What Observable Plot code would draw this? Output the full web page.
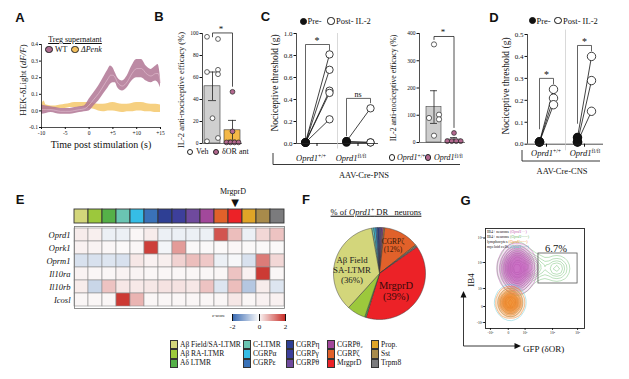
<!DOCTYPE html>
<html><head><meta charset="utf-8">
<script src="https://cdn.jsdelivr.net/npm/d3@7"></script>
<script src="https://cdn.jsdelivr.net/npm/@observablehq/plot@0.6"></script>
<style>
body{margin:0;background:#fff;}
#root{position:relative;width:629px;height:379px;overflow:hidden;background:#fff;font-family:"Liberation Serif","Times New Roman",serif;color:#111;}
.t{position:absolute;white-space:nowrap;line-height:1;}
.t sup{font-size:68%;vertical-align:0.45em;line-height:0;}
.lt{font-family:"Liberation Sans",Arial,sans-serif;font-weight:bold;font-size:13px;}
.dt{position:absolute;border-radius:50%;box-sizing:border-box;}
.sw{position:absolute;box-sizing:border-box;border:0.8px solid #333;}
</style></head><body><div id="root"></div>
<script>
// ================= DATA =================
// Panel A – HEK-δLight band (low / high edge of SEM band)
const aWtTime = [-10,-9,-8,-7,-6,-5,-4,-3,-2,-1,0,1,2,3,4,4.5,5,5.5,6,7,8,9,10,11,12,13,14,14.5,15];
const aWtLo = [-0.02,-0.015,-0.01,-0.015,-0.02,-0.02,-0.02,-0.015,-0.01,-0.005,0.0,0.03,0.06,0.10,0.14,0.16,0.17,0.17,0.14,0.12,0.14,0.18,0.20,0.20,0.18,0.17,0.18,0.17,0.14];
const aWtHi = [0.035,0.03,0.025,0.02,0.015,0.015,0.015,0.02,0.025,0.03,0.07,0.11,0.15,0.20,0.25,0.27,0.26,0.23,0.20,0.18,0.21,0.27,0.31,0.31,0.27,0.25,0.27,0.28,0.20];
const aPkTime = [-10,-9.5,-9,-8,-7,-6,-5,-4,-3,-2,-1,0,1,2,3,4,5,6,7,8,9,10,11,12,13,14,15];
const aPkLo = [-0.01,0.0,0.0,0.005,0.01,0.015,0.015,0.02,0.02,0.02,0.02,0.015,0.01,0.0,-0.005,0.0,0.0,-0.005,-0.01,-0.005,-0.005,0.0,0.0,-0.005,-0.005,-0.01,-0.01];
const aPkHi = [0.03,0.06,0.035,0.03,0.03,0.035,0.04,0.045,0.05,0.05,0.05,0.05,0.045,0.04,0.04,0.045,0.05,0.045,0.04,0.04,0.045,0.05,0.05,0.045,0.04,0.04,0.035];
const aXTicks = [-10,-5,0,5,10,15];
const aYTicks = [-0.1,0,0.1,0.2,0.3,0.4];

// Panel B
const bGroups = ["Veh","δOR ant"];
const bMeans = [52,12];
const bErrLo = [39,3];
const bErrHi = [65,21];
const bFills = ["#cfcfcf","#f4b847"];
const bVeh = [97,95,65,67,63,23,5,2];
const bVehSlot = [-1,1,-1,1,1,0,1,-1];
const bAnt = [47,11,1,1,1,1];
const bAntSlot = [0,0,-1.5,-0.5,0.5,1.5];
const bYTicks = [0,20,40,60,80,100];

// Panel C (left) – paired thresholds
const cGeno = ["+/+","fl/fl"];
const cTimes = ["Pre","Post"];
const cPreWT = [0.01,0.01,0.01,0.01,0.01];
const cPostWT = [0.81,0.67,0.48,0.46,0.22];
const cPreFl = [0.02,0.02,0.01];
const cPostFl = [0.32,0.01,0.01];
const cYTicks = [0,0.2,0.4,0.6,0.8,1.0];
const cSigTop = [0.90,0.41];
const cSigLowL = [0.05,0.07];
const cSigLowR = [0.85,0.37];
const cSigLab = ["*","ns"];

// Panel C (right) – efficacy
const crMeans = [130,11];
const crErrLo = [70,4];
const crErrHi = [190,18];
const crWT = [360,102,90,85,25];
const crWTSlot = [0,1,-1,1,0];
const crFl = [35,5,5,5,5];
const crFlSlot = [0,-1.5,-0.5,0.5,1.5];
const crYTicks = [0,100,200,300,400];

// Panel D
const dPreWT = [0.01,0.01,0.01];
const dPostWT = [0.25,0.21,0.18];
const dPreFl = [0.03,0.01,0.01];
const dPostFl = [0.40,0.29,0.15];
const dYTicks = [0,0.1,0.2,0.3,0.4,0.5];
const dSigTop = [0.30,0.45];
const dSigLowL = [0.07,0.095];
const dSigLowR = [0.275,0.425];

// Panel E – DRG clusters & z-scores
const clusters = ["Aβ Field/SA-LTMR","Aβ RA-LTMR","Aδ LTMR","C-LTMR","CGRPα","CGRPε","CGRPη","CGRPγ","CGRPθ","CGRPθ₂","CGRPζ","MrgprD","Prop.","Sst","Trpm8"];
const clusterColors = ["#d3d67b","#9cc83c","#55b048","#6ac5b3","#36bde6","#3a72b8","#2e3f94","#3d3f9b","#6f4a9d","#a2489b","#e1612a","#ec2227","#e0a527","#a88b4b","#7b7b7d"];
const genes = ["Oprd1","Oprk1","Oprm1","Il10ra","Il10rb","Icosl"];
const zOprd1 = [0.15,0.12,-0.15,-0.15,0.05,0.15,-0.15,-0.15,-0.15,-0.15,1.65,0.6,-0.15,0.35,0.55];
const zOprk1 = [0.1,0.08,0.05,0.02,0.05,1.85,-0.08,0.95,0.03,0.03,0.02,0.05,0.03,0.03,0.03];
const zOprm1 = [-0.35,-0.35,-0.3,-0.35,0.2,0.1,0.12,0.4,0.6,0.5,-0.15,-0.05,-0.35,1.25,0.35];
const zIl10ra = [0.08,0.05,0.05,0.08,0.08,0.05,0.05,0.05,0.05,0.05,0.05,0.55,0.1,1.9,0.05];
const zIl10rb = [0.15,-0.5,0.55,0.2,0.18,0.2,0.25,0.25,0.2,0.55,-0.3,0.6,-0.7,0.15,-0.3];
const zIcosl = [0.05,0.05,0.05,1.9,0.7,0.05,0.05,0.05,0.05,0.05,0.05,0.2,0.05,0.1,0.1];
const zTicks = [-2,0,2];

// Panel F – % of Oprd1+ DRG neurons (clockwise)
const pieNames = ["C-LTMR","CGRPα","CGRPε","CGRPη","CGRPγ","CGRPθ","CGRPθ₂","Prop.","CGRPζ","Sst","Trpm8","MrgprD","Aδ LTMR","Aβ RA-LTMR","Aβ Field/SA-LTMR"];
const pieShare = [0.8,0.7,0.6,0.6,0.5,0.5,0.5,0.4,12.5,0.45,0.45,39.5,0.5,6.5,35.5];

// Panel G – flow cytometry populations (axis units 0–100)
const gMagX = [32,28,36,28,36,32,32,25,39,32,32];
const gMagY = [60,52,52,68,68,46,74,60,60,60,60];
const gGrnX = [32,27,37,27,37,32,32,23,41,46,52,71,73];
const gGrnY = [60,51,51,69,69,44,76,60,60,62,61,60,60];
const gOrX = [25,25,25,21,29,25];
const gOrY = [26,19,33,26,26,26];
const gCyX = [25,25,25,20,30];
const gCyY = [26,17,35,26,26];
const gGateX = [53.5,93];
const gGateY = [45,75];
const gXTickPos = [5,23,40,67.7,93];
const gYTickPos = [6,22,40,66,90.5];
const gTickLab = ["-10³","0","10³","10⁴","10⁵"];

// ================= HELPERS =================
const root = document.getElementById("root");
const W = 629, H = 379;
const SERIF = "Liberation Serif, Times New Roman, serif";
const fr = (x0,y0,x1,y1) => ({width:W,height:H,marginLeft:x0,marginTop:y0,marginRight:W-x1,marginBottom:H-y1});
const st = fs => ({background:"transparent",fontFamily:SERIF,fontSize:fs+"px",color:"#111",overflow:"visible"});
function add(el){el.style.position="absolute";el.style.left="0px";el.style.top="0px";root.appendChild(el);return el;}
function txt(x,y,html,o={}){
  const d=document.createElement("div");d.className="t"+(o.cls?" "+o.cls:"");d.innerHTML=html;
  const a=o.anchor||"start";const tx=a==="middle"?"-50%":a==="end"?"-100%":"0";
  d.style.left=x+"px";d.style.top=y+"px";
  if(!o.cls) d.style.fontSize=(o.size||8)+"px";
  if(o.color) d.style.color=o.color;
  if(o.css) d.style.cssText+=o.css;
  d.style.transform=o.rot?`translate(-50%,-50%) rotate(${o.rot}deg)`:`translate(${tx},-50%)`;
  root.appendChild(d);return d;
}
function dot(x,y,r,fill,stroke="#222"){
  const d=document.createElement("div");d.className="dt";
  d.style.cssText+=`left:${x-r}px;top:${y-r}px;width:${2*r}px;height:${2*r}px;background:${fill};border:0.8px solid ${stroke};`;
  root.appendChild(d);
}
function slotDots(pts,fill,r,step){
  const slots=[...new Set(pts.map(d=>d.s))];
  return slots.map(s=>Plot.dot(pts.filter(d=>d.s===s),{x:"g",y:"v",r,fill,stroke:"#222",strokeWidth:0.7,dx:s*step}));
}
function axesOverlay(frame,ydom,yticks,yfmt,fs,extra=[],xdom=[0,1]){
  return add(Plot.plot({...frame,style:st(fs),x:{domain:xdom,axis:null},y:{domain:ydom},
    marks:[Plot.axisY({ticks:yticks,tickFormat:yfmt,tickSize:2.5,tickPadding:1.5,fontSize:fs,label:null}),
      Plot.ruleX([xdom[0]],{stroke:"#222",strokeWidth:0.8}),...extra]}));
}
const f1 = d3.format(".1f");
const intFmt = d => d<0 ? "-"+(-d) : String(d);

// ================= PANEL A =================
const aWT = aWtTime.map((t,i)=>({t,lo:aWtLo[i],hi:aWtHi[i]}));
const aPK = aPkTime.map((t,i)=>({t,lo:aPkLo[i],hi:aPkHi[i]}));
add(Plot.plot({...fr(41,44,160,127),style:st(5.5),
  x:{domain:[-10,15],axis:null},y:{domain:[-0.1,0.4],axis:null},
  marks:[
    Plot.areaY(aPK,{x:"t",y1:"lo",y2:"hi",fill:"#f4c462",fillOpacity:0.8,curve:"monotone-x"}),
    Plot.areaY(aWT,{x:"t",y1:"lo",y2:"hi",fill:"#b07594",fillOpacity:0.85,curve:"monotone-x"}),
    Plot.lineY(aWT,{x:"t",y:d=>(d.lo+d.hi)/2,stroke:"#e6c3d4",strokeWidth:0.6,curve:"monotone-x"}),
    Plot.ruleX([-10],{stroke:"#222",strokeWidth:0.8}),
    Plot.ruleY([-0.1],{stroke:"#222",strokeWidth:0.8}),
    Plot.axisX({ticks:aXTicks,tickFormat:d=>d>0?"+"+d:d<0?"-"+Math.abs(d):"0",tickSize:2,tickPadding:1.5,fontSize:5.5,label:null}),
    Plot.axisY({ticks:aYTicks,tickFormat:d=>d<0?"-"+f1(-d):f1(d),tickSize:2,tickPadding:1.5,fontSize:5.5,label:null})
  ]}));

// ================= PANEL B =================
const bBars = bGroups.map((g,i)=>({g,mean:bMeans[i],lo:bErrLo[i],hi:bErrHi[i],fill:bFills[i]}));
const bPtsVeh = bVeh.map((v,i)=>({g:"Veh",v,s:bVehSlot[i]}));
const bPtsAnt = bAnt.map((v,i)=>({g:"δOR ant",v,s:bAntSlot[i]}));
const bSig = [{g:"Veh",v:97},{g:"Veh",v:100.5},{g:"δOR ant",v:100.5},{g:"δOR ant",v:52}];
add(Plot.plot({...fr(202,33,242,143),style:st(6),color:{type:"identity"},
  x:{type:"band",domain:bGroups,paddingInner:0.2,paddingOuter:0.1,axis:null},y:{domain:[0,100],axis:null},
  marks:[
    Plot.barY(bBars,{x:"g",y:"mean",fill:"fill",stroke:"#333",strokeWidth:0.6}),
    Plot.ruleX(bBars,{x:"g",y1:"lo",y2:"hi",stroke:"#222",strokeWidth:0.8}),
    Plot.tickY(bBars,{x:"g",y:"hi",insetLeft:4,insetRight:4,stroke:"#222",strokeWidth:0.8}),
    Plot.tickY(bBars,{x:"g",y:"lo",insetLeft:4,insetRight:4,stroke:"#222",strokeWidth:0.8}),
    ...slotDots(bPtsVeh,"white",2.4,5.5),
    ...slotDots(bPtsAnt,"#b3688f",2.4,4),
    Plot.line(bSig,{x:"g",y:"v",stroke:"#222",strokeWidth:0.8})
  ]}));
axesOverlay(fr(202,33,242,143),[0,100],bYTicks,d=>String(d),5.5,[Plot.ruleY([0],{stroke:"#222",strokeWidth:0.6})]);

// ================= PANEL C (left) =================
function pairRows(pre,post,geno){const r=[];pre.forEach((v,i)=>{r.push({geno,id:geno+i,time:"Pre",v});r.push({geno,id:geno+i,time:"Post",v:post[i]});});return r;}
function sigRows(top,lowL,lowR){const r=[];cGeno.forEach((g,i)=>{r.push({geno:g,id:g,time:"Pre",v:lowL[i]},{geno:g,id:g,time:"Pre",v:top[i]},{geno:g,id:g,time:"Post",v:top[i]},{geno:g,id:g,time:"Post",v:lowR[i]});});return r;}
function pairedPlot(frame,rows,sig,ydom,pad,r){
  return add(Plot.plot({...frame,style:st(7),
    fx:{domain:cGeno,padding:0,axis:null},x:{type:"point",domain:cTimes,padding:pad,axis:null},y:{domain:ydom,axis:null},
    marks:[
      Plot.line(sig,{fx:"geno",x:"time",y:"v",z:"id",stroke:"#222",strokeWidth:0.7}),
      Plot.line(rows,{fx:"geno",x:"time",y:"v",z:"id",stroke:"#111",strokeWidth:0.8}),
      Plot.dot(rows.filter(d=>d.time==="Pre"),{fx:"geno",x:"time",y:"v",r,fill:"#111",stroke:"#111"}),
      Plot.dot(rows.filter(d=>d.time==="Post"),{fx:"geno",x:"time",y:"v",r:r+0.2,fill:"white",stroke:"#111",strokeWidth:0.8})
    ]}));
}
const cRows = [...pairRows(cPreWT,cPostWT,"+/+"),...pairRows(cPreFl,cPostFl,"fl/fl")];
pairedPlot(fr(296,33,378,143),cRows,sigRows(cSigTop,cSigLowL,cSigLowR),[0,1],0.354,3.5);
const cSigTxt = cGeno.map((g,i)=>({gx:i+0.5,top:cSigTop[i],lab:cSigLab[i]}));
axesOverlay(fr(296,33,378,143),[0,1],cYTicks,f1,7,[
  Plot.ruleY([0],{stroke:"#222",strokeWidth:0.8}),
  Plot.ruleX([1],{y1:-0.05,y2:1,stroke:"#c8c8c8",strokeWidth:0.7}),
  Plot.axisX({ticks:[0.5,1.5],tickFormat:()=>"",tickSize:3,label:null}),
  Plot.text(cSigTxt,{x:"gx",y:"top",text:"lab",dy:-4,fontSize:d=>d.lab==="*"?10:8})
],[0,2]);

// ================= PANEL C (right) =================
const crBars = cGeno.map((g,i)=>({g,mean:crMeans[i],lo:crErrLo[i],hi:crErrHi[i]}));
const crPtsWT = crWT.map((v,i)=>({g:"+/+",v,s:crWTSlot[i]}));
const crPtsFl = crFl.map((v,i)=>({g:"fl/fl",v,s:crFlSlot[i]}));
const crSig = [{g:"+/+",v:378},{g:"+/+",v:389},{g:"fl/fl",v:389},{g:"fl/fl",v:55}];
add(Plot.plot({...fr(421,33,465,142),style:st(6),
  x:{type:"band",domain:cGeno,paddingInner:0.25,paddingOuter:0.2,axis:null},y:{domain:[0,400],axis:null},
  marks:[
    Plot.barY(crBars,{x:"g",y:"mean",fill:"#cdcdcd",stroke:"#444",strokeWidth:0.6}),
    Plot.ruleX(crBars,{x:"g",y1:"lo",y2:"hi",stroke:"#222",strokeWidth:0.8}),
    Plot.tickY(crBars,{x:"g",y:"hi",insetLeft:4,insetRight:4,stroke:"#222",strokeWidth:0.8}),
    Plot.tickY(crBars,{x:"g",y:"lo",insetLeft:4,insetRight:4,stroke:"#222",strokeWidth:0.8}),
    ...slotDots(crPtsWT,"white",2.6,5),
    ...slotDots(crPtsFl,"#b3688f",2.4,4.5),
    Plot.line(crSig,{x:"g",y:"v",stroke:"#222",strokeWidth:0.8})
  ]}));
axesOverlay(fr(419,33,465,142),[0,400],crYTicks,d=>String(d),5.5,[Plot.ruleY([0],{stroke:"#222",strokeWidth:0.6})]);

// ================= PANEL D =================
const dRows = [...pairRows(dPreWT,dPostWT,"+/+"),...pairRows(dPreFl,dPostFl,"fl/fl")];
pairedPlot(fr(527,34,603,143.7),dRows,sigRows(dSigTop,dSigLowL,dSigLowR),[0,0.5],0.77,4);
const dSigTxt = cGeno.map((g,i)=>({gx:i+0.5,top:dSigTop[i],lab:"*"}));
axesOverlay(fr(527,34,603,143.7),[0,0.5],dYTicks,f1,7,[
  Plot.ruleY([0],{stroke:"#222",strokeWidth:0.8}),
  Plot.ruleX([1],{y1:-0.03,y2:0.52,stroke:"#c8c8c8",strokeWidth:0.7}),
  Plot.axisX({ticks:[0.5,1.5],tickFormat:()=>"",tickSize:3,label:null}),
  Plot.text(dSigTxt,{x:"gx",y:"top",text:"lab",dy:-4,fontSize:10})
],[0,2]);

// ================= PANEL E =================
const zRows = [zOprd1,zOprk1,zOprm1,zIl10ra,zIl10rb,zIcosl];
const cells = genes.flatMap((g,gi)=>clusters.map((c,ci)=>({gene:g,cluster:c,z:zRows[gi][ci]})));
const zColor = {type:"linear",domain:[-2,0,2],range:["#3466b0","#fbfbfb","#c9302a"],interpolate:"rgb",clamp:true};
add(Plot.plot({...fr(74,209,284,223),style:st(7),color:{type:"identity"},
  x:{type:"band",domain:clusters,padding:0,axis:null},
  marks:[Plot.cell(clusters,{x:d=>d,fill:(d,i)=>clusterColors[i],stroke:"#333",strokeWidth:0.9})]}));
add(Plot.plot({...fr(74,226,284,308),style:st(8.5),color:zColor,
  x:{type:"band",domain:clusters,padding:0,axis:null},y:{type:"band",domain:genes,padding:0},
  marks:[
    Plot.cell(cells,{x:"cluster",y:"gene",fill:"z",stroke:"#8c8c8c",strokeWidth:0.6}),
    Plot.frame({stroke:"#777",strokeWidth:0.8}),
    Plot.axisY({fontStyle:"italic",fontSize:8.5,tickSize:0,tickPadding:4,label:null})
  ]}));
{
  const lg = Plot.legend({color:zColor,width:69,height:22,marginTop:2,marginBottom:13,marginLeft:8,marginRight:8,
    ticks:zTicks,tickFormat:intFmt,tickSize:0,label:null,style:{background:"transparent",fontFamily:SERIF,fontSize:"7px",overflow:"visible"}});
  lg.style.position="absolute";lg.style.left="224px";lg.style.top="312px";root.appendChild(lg);
}

// ================= PANEL F =================
const pieColor = n => clusterColors[clusters.indexOf(n)];
const arcs = d3.pie().sort(null).value(d=>d).startAngle(-10*Math.PI/180).endAngle(350*Math.PI/180)(pieShare);
const piePts = [];
arcs.forEach((a,i)=>{
  const name=pieNames[i], c=pieColor(name);
  const n=Math.max(2,Math.ceil((a.endAngle-a.startAngle)/(Math.PI/180)));
  piePts.push({name,c,x:0,y:0});
  for(let k=0;k<=n;k++){const t=a.startAngle+(a.endAngle-a.startAngle)*k/n;piePts.push({name,c,x:Math.sin(t),y:Math.cos(t)});}
  piePts.push({name,c,x:0,y:0});
});
add(Plot.plot({...fr(333,227,425,319),style:st(8),color:{type:"identity"},
  x:{domain:[-1,1],axis:null},y:{domain:[-1,1],axis:null},
  marks:[Plot.line(piePts,{x:"x",y:"y",z:"name",fill:"c",stroke:"#3a3a3a",strokeWidth:0.5,strokeLinejoin:"round"})]}));

// ================= PANEL G =================
const toPts = (X,Y)=>X.map((x,i)=>({x,y:Y[i]}));
const gLab = (pos)=>d=>gTickLab[pos.indexOf(d)];
add(Plot.plot({...fr(485,228,584,328),style:st(3.6),
  x:{domain:[0,100],axis:null},y:{domain:[0,100],axis:null},
  marks:[
    Plot.density(toPts(gGrnX,gGrnY),{x:"x",y:"y",bandwidth:5,thresholds:10,stroke:"#79c27b",strokeWidth:0.5,clip:true}),
    Plot.density(toPts(gMagX,gMagY),{x:"x",y:"y",bandwidth:5.5,thresholds:14,stroke:"#b64ead",strokeWidth:0.4,fill:"#c664bf",fillOpacity:0.16,clip:true}),
    Plot.density(toPts(gCyX,gCyY),{x:"x",y:"y",bandwidth:5.5,thresholds:6,stroke:"#6ccad6",strokeWidth:0.5,clip:true}),
    Plot.density(toPts(gOrX,gOrY),{x:"x",y:"y",bandwidth:4.5,thresholds:12,stroke:"#ec7c1f",strokeWidth:0.45,fill:"#f08a2a",fillOpacity:0.2,clip:true}),
    Plot.rect([0],{x1:gGateX[0],x2:gGateX[1],y1:gGateY[0],y2:gGateY[1],fill:"none",stroke:"#555",strokeWidth:0.8}),
    Plot.frame({stroke:"#222",strokeWidth:0.9}),
    Plot.axisX({ticks:gXTickPos,tickFormat:gLab(gXTickPos),tickSize:1.8,tickPadding:1,fontSize:3.6,label:null}),
    Plot.axisY({ticks:gYTickPos,tickFormat:gLab(gYTickPos),tickSize:1.8,tickPadding:1,fontSize:3.6,label:null})
  ]}));

// ================= DECORATIONS =================
{
  const s=document.createElementNS("http://www.w3.org/2000/svg","svg");
  s.setAttribute("width",W);s.setAttribute("height",H);
  s.innerHTML=`<g fill="none" stroke="#222" stroke-width="0.9">
    <path d="M273,153V164.5H460"/>
    <path d="M522,150V161H600"/>
    <path d="M463.5,346V297"/><path d="M463.5,346H515"/></g>
    <path d="M463.5,291l-3,6.5h6z" fill="#111"/><path d="M521,346l-6.5,-3v6z" fill="#111"/>`;
  add(s);
}

// ================= TEXT =================
[["A",20,17],["B",159,16],["C",265.5,15.5],["D",494,16.5],["E",20,199],["F",306,199],["G",465.5,200]]
  .forEach(([l,x,y])=>txt(x,y,l,{cls:"lt",anchor:"middle"}));
// A
txt(75,40,"Treg supernatant",{size:8,anchor:"middle",css:"text-decoration:underline;"});
dot(49,49.5,3.8,"#ad6d8f");txt(55,49.5,"WT",{size:8});
dot(75,49.5,3.8,"#f3c05e");txt(81,49.5,"<i>ΔPenk</i>",{size:8});
txt(101,145,"Time post stimulation (s)",{size:10,anchor:"middle"});
txt(23,80,"HEK-δLight (<i>dF/F</i>)",{size:9,rot:-90});
// B
txt(181,90,"IL-2 anti-nociceptive efficacy (%)",{size:8.5,rot:-90});
txt(221,28.5,"*",{size:9,anchor:"middle"});
dot(190,152,3.4,"white");txt(196,152,"Veh",{size:8});
dot(216,152,3.4,"#b3688f");txt(222,152,"δOR ant",{size:8});
// C
dot(303,21,3.5,"#111","#111");txt(307.5,21,"Pre-",{size:8.5});
dot(331,21,3.6,"white","#111");txt(336,21,"Post- IL-2",{size:8.5});
txt(276,83,"Nociceptive threshold (g)",{size:9.5,rot:-90});
txt(311,157.5,"<i>Oprd1</i><sup>+/+</sup>",{size:8.5,anchor:"middle"});
txt(351,157.5,"<i>Oprd1</i><sup>fl/fl</sup>",{size:8.5,anchor:"middle"});
txt(394,88,"IL-2 anti-nociceptive efficacy (%)",{size:7.8,rot:-90});
txt(443,31.5,"*",{size:9,anchor:"middle"});
dot(392,157.5,3.4,"white");txt(397,157.5,"<i>Oprd1</i><sup>+/+</sup>",{size:8});
dot(428,157.5,3.4,"#b3688f");txt(434,157.5,"<i>Oprd1</i><sup>fl/fl</sup>",{size:8});
txt(364,175,"AAV-Cre-PNS",{size:8.5,anchor:"middle"});
// D
dot(532,20.5,3.5,"#111","#111");txt(536.5,20.5,"Pre-",{size:8.5});
dot(558,20.5,3.6,"white","#111");txt(563,20.5,"Post- IL-2",{size:8.5});
txt(507,86,"Nociceptive threshold (g)",{size:9.5,rot:-90});
txt(546,153,"<i>Oprd1</i><sup>+/+</sup>",{size:8.5,anchor:"middle"});
txt(585,153,"<i>Oprd1</i><sup>fl/fl</sup>",{size:8.5,anchor:"middle"});
txt(562,170.5,"AAV-Cre-CNS",{size:8.5,anchor:"middle"});
// E
txt(233,192,"MrgprD",{size:8,anchor:"middle"});
txt(235,202.5,"▼",{size:10,anchor:"middle",css:"font-family:'DejaVu Sans';"});
txt(212,315.5,"z-score",{size:4.5});
{
  const colX=[170,243,286,327,371], rowY=[340,349.3,358.6];
  clusters.forEach((c,i)=>{
    const col=Math.floor(i/3), row=i%3;
    const d=document.createElement("div");d.className="sw";
    d.style.cssText+=`left:${colX[col]}px;top:${rowY[row]}px;width:7.5px;height:9.3px;background:${clusterColors[i]};`;
    root.appendChild(d);
    txt(colX[col]+10,rowY[row]+4.8,c,{size:7.5});
  });
}
// F
txt(376,212,"% of <i>Oprd1</i><sup>+</sup> DR&nbsp;&nbsp;&nbsp;neurons",{size:8.5,anchor:"middle",css:"text-decoration:underline;"});
txt(393,242,"CGRPζ",{size:7.5,anchor:"middle",color:"#3a1a08"});
txt(393,250,"(12%)",{size:7.5,anchor:"middle",color:"#3a1a08"});
txt(352,260,"Aβ Field",{size:8.8,anchor:"middle",color:"#222"});
txt(352,270,"SA-LTMR",{size:8.8,anchor:"middle",color:"#222"});
txt(352,279.5,"(36%)",{size:8.8,anchor:"middle",color:"#222"});
txt(396,286,"MrgprD",{size:10.5,anchor:"middle",color:"#3a0a0a"});
txt(396,297,"(39%)",{size:10.5,anchor:"middle",color:"#3a0a0a"});
// G
[["IB4+ neurons ","#c05cb0","+/+"],["IB4+ neurons ","#5fb35f","eGFP"],["lymphocytes ","#ee8020","eGFP"],["myeloid cells ","#4fc0d0","eGFP"]]
  .forEach(([a,c,s],i)=>txt(487,231.7+5*i,`${a}<span style="color:${c}">(<i>Oprd1</i><sup>${s}</sup>)</span>`,{size:4}));
txt(556,249,"6.7%",{size:10.5,anchor:"middle"});
txt(471,280,"IB4",{size:9,rot:-90});
txt(523,348.5,"GFP (δOR)",{size:9});
</script></body></html>
